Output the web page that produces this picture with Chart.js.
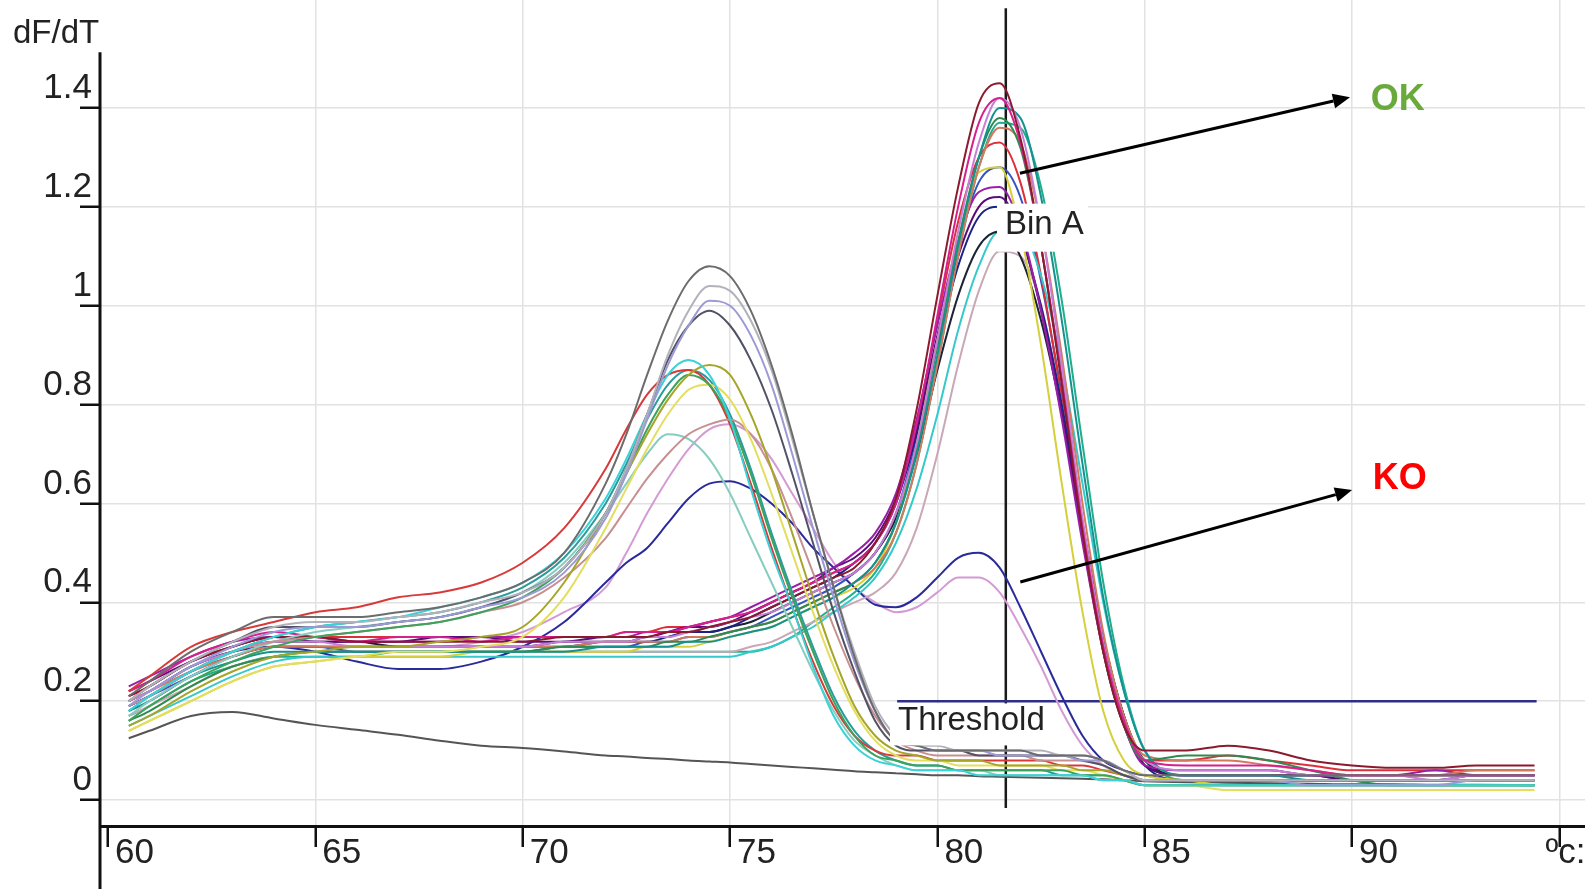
<!DOCTYPE html>
<html lang="en">
<head>
    <meta charset="UTF-8">
    <title>Melt curve - dF/dT</title>
    <script src="https://cdn.jsdelivr.net/npm/chart.js@4.4.1/dist/chart.umd.min.js"></script>
    <style>
        html, body { margin: 0; padding: 0; background: #ffffff; }
        #chart-box { position: relative; width: 1585px; height: 889px; }
    </style>
</head>
<body>
<div id="chart-box"><canvas id="melt-chart"></canvas></div>
<script>
// Temperature steps (ºC) shared by every melt curve
const temps = [60.5, 61, 62, 63, 64, 65, 66, 67, 68, 69, 70, 71, 72,
    72.5, 73, 73.5, 74, 74.5, 75, 75.5, 76, 76.5, 77, 77.5, 78, 78.5,
    79, 79.5, 80, 80.5, 81, 81.5, 82, 82.5, 83, 83.5, 84, 84.5, 85,
    86, 87, 88, 89, 90, 91, 92, 93, 94.4];

// Axis ticks
const xTicks = [60, 65, 70, 75, 80, 85, 90, 95];
const xTickLabels = ["60", "65", "70", "75", "80", "85", "90", ""];
const xUnit = "ºc:";
const yTicks = [0, 0.2, 0.4, 0.6, 0.8, 1, 1.2, 1.4];
const yTickLabels = ["0", "0.2", "0.4", "0.6", "0.8", "1", "1.2", "1.4"];

// Threshold line and bin A marker
const thresholdLevel = 0.2;
const thresholdRange = [79.03, 94.45];
const binTemp = 81.65;
const binRange = [-0.016, 1.602];

// Curves with the peak in bin A (OK)
const okDarkRed = [0.21, 0.23, 0.28, 0.31, 0.33, 0.33, 0.32, 0.32, 0.32, 0.32, 0.32, 0.33, 0.33,
    0.33, 0.33, 0.34, 0.34, 0.35, 0.36, 0.37, 0.39, 0.41, 0.43, 0.45, 0.47, 0.52,
    0.61, 0.79, 1.02, 1.24, 1.41, 1.45, 1.34, 1.12, 0.84, 0.54, 0.30, 0.15, 0.10,
    0.10, 0.11, 0.10, 0.08, 0.07, 0.065, 0.065, 0.07, 0.07];
const okMagenta = [0.22, 0.24, 0.29, 0.32, 0.34, 0.33, 0.32, 0.33, 0.33, 0.32, 0.33, 0.33, 0.33,
    0.34, 0.34, 0.34, 0.35, 0.36, 0.37, 0.38, 0.40, 0.42, 0.44, 0.46, 0.48, 0.52,
    0.60, 0.76, 0.98, 1.20, 1.37, 1.42, 1.33, 1.12, 0.85, 0.55, 0.31, 0.16, 0.08,
    0.07, 0.07, 0.07, 0.06, 0.05, 0.05, 0.05, 0.05, 0.05];
const okOrchid = [0.20, 0.22, 0.27, 0.30, 0.32, 0.32, 0.31, 0.31, 0.31, 0.31, 0.31, 0.32, 0.32,
    0.32, 0.33, 0.33, 0.34, 0.35, 0.36, 0.37, 0.38, 0.40, 0.42, 0.44, 0.46, 0.50,
    0.58, 0.72, 0.93, 1.15, 1.33, 1.42, 1.36, 1.16, 0.88, 0.57, 0.32, 0.16, 0.08,
    0.06, 0.06, 0.06, 0.05, 0.05, 0.05, 0.04, 0.05, 0.05];
const okTeal = [0.18, 0.20, 0.25, 0.28, 0.30, 0.30, 0.30, 0.30, 0.30, 0.30, 0.30, 0.30, 0.31,
    0.31, 0.31, 0.31, 0.32, 0.32, 0.33, 0.34, 0.35, 0.37, 0.39, 0.41, 0.44, 0.48,
    0.56, 0.70, 0.90, 1.12, 1.30, 1.40, 1.38, 1.22, 0.97, 0.68, 0.41, 0.22, 0.10,
    0.05, 0.05, 0.05, 0.04, 0.04, 0.04, 0.04, 0.04, 0.04];
const okGreen = [0.16, 0.18, 0.23, 0.27, 0.29, 0.30, 0.30, 0.30, 0.30, 0.30, 0.30, 0.31, 0.31,
    0.31, 0.31, 0.32, 0.32, 0.33, 0.34, 0.35, 0.36, 0.38, 0.40, 0.42, 0.44, 0.48,
    0.56, 0.71, 0.92, 1.13, 1.30, 1.38, 1.32, 1.12, 0.85, 0.55, 0.30, 0.15, 0.08,
    0.09, 0.09, 0.08, 0.06, 0.04, 0.03, 0.03, 0.03, 0.03];
const okSalmon = [0.20, 0.22, 0.26, 0.29, 0.31, 0.31, 0.31, 0.31, 0.31, 0.31, 0.31, 0.31, 0.32,
    0.32, 0.32, 0.32, 0.33, 0.33, 0.34, 0.35, 0.36, 0.38, 0.40, 0.42, 0.44, 0.47,
    0.54, 0.68, 0.88, 1.10, 1.28, 1.36, 1.33, 1.16, 0.90, 0.60, 0.34, 0.17, 0.09,
    0.08, 0.08, 0.07, 0.06, 0.05, 0.05, 0.05, 0.06, 0.06];
const okYellow = [0.14, 0.16, 0.20, 0.24, 0.27, 0.28, 0.29, 0.29, 0.29, 0.30, 0.30, 0.30, 0.30,
    0.30, 0.31, 0.31, 0.31, 0.32, 0.33, 0.34, 0.35, 0.37, 0.39, 0.41, 0.43, 0.47,
    0.56, 0.72, 0.93, 1.12, 1.27, 1.28, 1.15, 0.92, 0.64, 0.38, 0.18, 0.08, 0.05,
    0.04, 0.03, 0.03, 0.03, 0.03, 0.03, 0.03, 0.03, 0.03];
const okPurple = [0.23, 0.25, 0.29, 0.32, 0.33, 0.33, 0.32, 0.32, 0.32, 0.33, 0.33, 0.33, 0.33,
    0.33, 0.34, 0.34, 0.35, 0.36, 0.37, 0.39, 0.41, 0.43, 0.45, 0.47, 0.50, 0.54,
    0.62, 0.77, 0.96, 1.13, 1.23, 1.24, 1.16, 0.99, 0.77, 0.52, 0.30, 0.15, 0.07,
    0.06, 0.06, 0.06, 0.05, 0.05, 0.05, 0.06, 0.05, 0.05];
const okPlum = [0.22, 0.24, 0.28, 0.31, 0.33, 0.32, 0.32, 0.32, 0.33, 0.33, 0.32, 0.32, 0.33,
    0.33, 0.33, 0.34, 0.35, 0.35, 0.36, 0.38, 0.40, 0.42, 0.44, 0.47, 0.49, 0.53,
    0.61, 0.75, 0.94, 1.10, 1.20, 1.22, 1.15, 0.99, 0.78, 0.53, 0.31, 0.16, 0.07,
    0.05, 0.05, 0.05, 0.05, 0.04, 0.04, 0.04, 0.05, 0.05];
const okNavy = [0.19, 0.21, 0.26, 0.29, 0.31, 0.31, 0.31, 0.31, 0.31, 0.31, 0.31, 0.31, 0.32,
    0.32, 0.32, 0.33, 0.34, 0.34, 0.35, 0.37, 0.39, 0.41, 0.43, 0.45, 0.48, 0.52,
    0.60, 0.74, 0.92, 1.08, 1.18, 1.20, 1.14, 1.00, 0.80, 0.56, 0.33, 0.17, 0.07,
    0.04, 0.04, 0.04, 0.04, 0.04, 0.04, 0.04, 0.04, 0.04];
const okBlack = [0.20, 0.22, 0.27, 0.30, 0.32, 0.32, 0.32, 0.31, 0.31, 0.31, 0.31, 0.32, 0.32,
    0.32, 0.33, 0.33, 0.34, 0.34, 0.35, 0.36, 0.38, 0.40, 0.42, 0.44, 0.46, 0.50,
    0.57, 0.70, 0.87, 1.02, 1.12, 1.15, 1.10, 0.97, 0.78, 0.55, 0.33, 0.17, 0.08,
    0.05, 0.05, 0.05, 0.05, 0.05, 0.05, 0.05, 0.05, 0.05];
const okCyan = [0.15, 0.17, 0.21, 0.25, 0.28, 0.29, 0.29, 0.29, 0.29, 0.29, 0.29, 0.29, 0.29,
    0.29, 0.29, 0.29, 0.29, 0.29, 0.29, 0.30, 0.31, 0.33, 0.35, 0.38, 0.41, 0.45,
    0.52, 0.63, 0.78, 0.95, 1.08, 1.15, 1.15, 1.06, 0.88, 0.64, 0.40, 0.22, 0.10,
    0.05, 0.05, 0.05, 0.05, 0.05, 0.05, 0.05, 0.05, 0.05];
const okRosy = [0.17, 0.19, 0.23, 0.27, 0.29, 0.30, 0.30, 0.30, 0.30, 0.30, 0.30, 0.30, 0.30,
    0.30, 0.30, 0.30, 0.30, 0.30, 0.30, 0.31, 0.32, 0.34, 0.36, 0.38, 0.40, 0.42,
    0.46, 0.55, 0.70, 0.88, 1.03, 1.11, 1.10, 1.00, 0.80, 0.56, 0.33, 0.17, 0.08,
    0.06, 0.06, 0.06, 0.05, 0.05, 0.05, 0.05, 0.05, 0.05];
const okJade = [0.17, 0.19, 0.24, 0.27, 0.29, 0.29, 0.29, 0.30, 0.30, 0.30, 0.30, 0.30, 0.30,
    0.30, 0.30, 0.30, 0.30, 0.30, 0.30, 0.30, 0.31, 0.33, 0.36, 0.39, 0.42, 0.46,
    0.54, 0.68, 0.88, 1.10, 1.28, 1.37, 1.36, 1.24, 1.01, 0.72, 0.44, 0.23, 0.10,
    0.04, 0.04, 0.04, 0.04, 0.04, 0.04, 0.04, 0.04, 0.04];
const okRed = [0.21, 0.23, 0.28, 0.31, 0.33, 0.33, 0.33, 0.33, 0.33, 0.33, 0.33, 0.33, 0.33,
    0.34, 0.34, 0.35, 0.35, 0.36, 0.37, 0.38, 0.40, 0.42, 0.44, 0.46, 0.48, 0.52,
    0.60, 0.76, 0.97, 1.17, 1.30, 1.33, 1.25, 1.06, 0.81, 0.53, 0.30, 0.15, 0.08,
    0.08, 0.09, 0.08, 0.07, 0.06, 0.06, 0.06, 0.06, 0.06];
const okBlue = [0.19, 0.21, 0.25, 0.29, 0.31, 0.31, 0.30, 0.30, 0.30, 0.30, 0.30, 0.31, 0.31,
    0.31, 0.32, 0.32, 0.33, 0.33, 0.34, 0.35, 0.37, 0.39, 0.41, 0.43, 0.46, 0.50,
    0.58, 0.73, 0.93, 1.12, 1.25, 1.28, 1.22, 1.05, 0.82, 0.56, 0.32, 0.16, 0.07,
    0.05, 0.05, 0.05, 0.05, 0.04, 0.04, 0.04, 0.04, 0.04];

// Curves with the peak near 74.5 ºC (KO)
const koGray = [0.21, 0.24, 0.30, 0.34, 0.37, 0.37, 0.37, 0.38, 0.39, 0.41, 0.44, 0.50, 0.64,
    0.74, 0.86, 0.97, 1.05, 1.08, 1.06, 0.99, 0.88, 0.74, 0.58, 0.43, 0.29, 0.18,
    0.12, 0.11, 0.10, 0.10, 0.10, 0.10, 0.10, 0.09, 0.09, 0.09, 0.08, 0.06, 0.05,
    0.05, 0.05, 0.05, 0.05, 0.05, 0.05, 0.05, 0.05, 0.05];
const koSilver = [0.20, 0.23, 0.28, 0.32, 0.35, 0.36, 0.36, 0.37, 0.38, 0.40, 0.42, 0.47, 0.58,
    0.67, 0.78, 0.90, 0.99, 1.04, 1.03, 0.97, 0.87, 0.73, 0.58, 0.43, 0.30, 0.19,
    0.13, 0.11, 0.11, 0.10, 0.10, 0.10, 0.10, 0.10, 0.09, 0.09, 0.08, 0.06, 0.04,
    0.04, 0.04, 0.04, 0.04, 0.04, 0.04, 0.04, 0.04, 0.04];
const koLavender = [0.19, 0.22, 0.27, 0.31, 0.34, 0.35, 0.35, 0.36, 0.37, 0.39, 0.41, 0.46, 0.57,
    0.66, 0.77, 0.88, 0.96, 1.01, 1.00, 0.94, 0.84, 0.70, 0.55, 0.41, 0.28, 0.18,
    0.12, 0.11, 0.10, 0.10, 0.10, 0.09, 0.09, 0.09, 0.09, 0.08, 0.08, 0.06, 0.04,
    0.04, 0.04, 0.04, 0.03, 0.03, 0.03, 0.03, 0.04, 0.04];
const koSlate = [0.20, 0.23, 0.28, 0.32, 0.35, 0.35, 0.35, 0.36, 0.37, 0.39, 0.42, 0.47, 0.58,
    0.67, 0.78, 0.89, 0.96, 0.99, 0.96, 0.89, 0.79, 0.66, 0.52, 0.38, 0.26, 0.16,
    0.11, 0.10, 0.10, 0.10, 0.09, 0.09, 0.09, 0.09, 0.09, 0.08, 0.07, 0.05, 0.04,
    0.04, 0.04, 0.04, 0.04, 0.04, 0.04, 0.04, 0.04, 0.04];
const koCyan = [0.18, 0.21, 0.26, 0.30, 0.33, 0.35, 0.36, 0.37, 0.39, 0.41, 0.44, 0.50, 0.61,
    0.69, 0.78, 0.86, 0.89, 0.86, 0.77, 0.63, 0.50, 0.39, 0.27, 0.17, 0.11, 0.08,
    0.07, 0.06, 0.06, 0.06, 0.05, 0.05, 0.05, 0.05, 0.05, 0.05, 0.04, 0.04, 0.03,
    0.03, 0.03, 0.03, 0.03, 0.03, 0.03, 0.03, 0.03, 0.03];
const koOlive = [0.15, 0.17, 0.22, 0.26, 0.29, 0.30, 0.31, 0.31, 0.32, 0.33, 0.35, 0.44, 0.58,
    0.66, 0.74, 0.81, 0.86, 0.88, 0.86, 0.78, 0.67, 0.54, 0.41, 0.29, 0.19, 0.13,
    0.10, 0.09, 0.08, 0.08, 0.08, 0.07, 0.07, 0.07, 0.07, 0.06, 0.06, 0.05, 0.04,
    0.04, 0.04, 0.04, 0.04, 0.04, 0.04, 0.04, 0.04, 0.04];
const koGreen = [0.16, 0.19, 0.24, 0.28, 0.31, 0.33, 0.34, 0.35, 0.36, 0.38, 0.41, 0.47, 0.58,
    0.66, 0.75, 0.82, 0.86, 0.84, 0.77, 0.66, 0.53, 0.41, 0.30, 0.20, 0.13, 0.09,
    0.08, 0.07, 0.07, 0.06, 0.06, 0.06, 0.06, 0.06, 0.06, 0.05, 0.05, 0.04, 0.03,
    0.03, 0.03, 0.03, 0.03, 0.03, 0.03, 0.03, 0.03, 0.03];
const koYellow = [0.14, 0.16, 0.20, 0.24, 0.27, 0.28, 0.29, 0.30, 0.30, 0.31, 0.33, 0.41, 0.55,
    0.63, 0.71, 0.78, 0.83, 0.84, 0.81, 0.73, 0.62, 0.50, 0.38, 0.27, 0.18, 0.12,
    0.09, 0.08, 0.08, 0.07, 0.07, 0.07, 0.07, 0.07, 0.06, 0.06, 0.05, 0.04, 0.03,
    0.03, 0.02, 0.02, 0.02, 0.02, 0.02, 0.02, 0.02, 0.02];
const koRose = [0.19, 0.21, 0.26, 0.30, 0.32, 0.33, 0.34, 0.35, 0.36, 0.38, 0.40, 0.45, 0.53,
    0.59, 0.65, 0.70, 0.74, 0.76, 0.77, 0.74, 0.67, 0.57, 0.46, 0.35, 0.25, 0.17,
    0.12, 0.10, 0.09, 0.09, 0.09, 0.09, 0.09, 0.08, 0.08, 0.08, 0.07, 0.05, 0.04,
    0.04, 0.04, 0.04, 0.04, 0.04, 0.04, 0.04, 0.04, 0.04];
const koMint = [0.17, 0.20, 0.25, 0.29, 0.32, 0.34, 0.35, 0.36, 0.37, 0.39, 0.42, 0.48, 0.58,
    0.64, 0.70, 0.74, 0.73, 0.69, 0.62, 0.53, 0.44, 0.35, 0.26, 0.18, 0.12, 0.09,
    0.07, 0.06, 0.06, 0.06, 0.06, 0.05, 0.05, 0.05, 0.05, 0.05, 0.04, 0.04, 0.03,
    0.03, 0.03, 0.03, 0.03, 0.03, 0.03, 0.03, 0.03, 0.03];
const koRed = [0.22, 0.25, 0.31, 0.34, 0.36, 0.38, 0.39, 0.41, 0.42, 0.44, 0.48, 0.55, 0.67,
    0.75, 0.82, 0.86, 0.87, 0.84, 0.76, 0.64, 0.51, 0.39, 0.28, 0.19, 0.13, 0.10,
    0.09, 0.09, 0.08, 0.08, 0.08, 0.08, 0.08, 0.08, 0.07, 0.07, 0.06, 0.05, 0.04,
    0.04, 0.04, 0.04, 0.04, 0.04, 0.04, 0.04, 0.04, 0.04];
const koTeal = [0.18, 0.21, 0.26, 0.30, 0.33, 0.35, 0.36, 0.37, 0.38, 0.40, 0.43, 0.49, 0.60,
    0.68, 0.77, 0.84, 0.87, 0.85, 0.78, 0.67, 0.54, 0.42, 0.31, 0.21, 0.14, 0.10,
    0.08, 0.07, 0.07, 0.06, 0.06, 0.06, 0.06, 0.06, 0.05, 0.05, 0.05, 0.04, 0.03,
    0.03, 0.03, 0.03, 0.03, 0.03, 0.03, 0.03, 0.03, 0.03];

// Two curves with both peaks, and the low flat one
const dblNavy = [0.20, 0.22, 0.27, 0.30, 0.31, 0.30, 0.28, 0.265, 0.265, 0.28, 0.31, 0.36, 0.44,
    0.48, 0.51, 0.56, 0.61, 0.64, 0.645, 0.63, 0.60, 0.56, 0.51, 0.47, 0.43, 0.395,
    0.39, 0.41, 0.45, 0.49, 0.50, 0.47, 0.39, 0.30, 0.21, 0.13, 0.08, 0.06, 0.05,
    0.04, 0.04, 0.04, 0.04, 0.04, 0.04, 0.04, 0.04, 0.04];
const dblPink = [0.18, 0.20, 0.25, 0.29, 0.31, 0.31, 0.31, 0.31, 0.31, 0.32, 0.34, 0.38, 0.43,
    0.50, 0.58, 0.65, 0.71, 0.75, 0.76, 0.74, 0.69, 0.62, 0.55, 0.48, 0.43, 0.40,
    0.38, 0.39, 0.42, 0.45, 0.45, 0.42, 0.35, 0.27, 0.18, 0.11, 0.07, 0.05, 0.04,
    0.04, 0.04, 0.04, 0.04, 0.04, 0.04, 0.04, 0.04, 0.04];
const lowGray = [0.125, 0.14, 0.17, 0.178, 0.165, 0.152, 0.142, 0.132, 0.12, 0.11, 0.105, 0.098, 0.09,
    0.088, 0.085, 0.083, 0.08, 0.078, 0.076, 0.073, 0.07, 0.067, 0.064, 0.061, 0.058, 0.056,
    0.054, 0.052, 0.05, 0.05, 0.048, 0.047, 0.046, 0.045, 0.044, 0.043, 0.042, 0.04, 0.038,
    0.036, 0.035, 0.034, 0.033, 0.032, 0.032, 0.031, 0.031, 0.03];

// Drawing order: KO below, OK above, then the odd ones
const curveValues = [koGray, koSilver, koLavender, koSlate, koCyan, koOlive, koGreen, koYellow,
    koRose, koMint, koRed, koTeal,
    okDarkRed, okMagenta, okOrchid, okTeal, okGreen, okSalmon, okYellow, okPurple,
    okPlum, okNavy, okBlack, okCyan, okRosy, okJade, okRed, okBlue,
    dblNavy, dblPink, lowGray];
const curveColors = ["#6c6c6c", "#b2b2bc", "#9c9ad6", "#525266", "#3ad2d8", "#a5a52a", "#3ca25c", "#e3de5e",
    "#c79090", "#86cdbf", "#d83a3a", "#2b9c9c",
    "#8b1a2e", "#d6208e", "#c77fd6", "#15928f", "#2e8b4f", "#d27a5e", "#d6cf3c", "#9a1fa8",
    "#5c0c78", "#1f2285", "#1c2434", "#35c9cc", "#c9a7b6", "#1fae8c", "#dd2f3a", "#3354c2",
    "#2a2a9c", "#d49ad4", "#555555"];

// Annotation anchors, in chart units (ºC, dF/dT)
const yAxisTop = 1.513;
const binLabelAt = [81.63, 1.164];
const thresholdLabelAt = [79.05, 0.161];
const okArrow = [81.99, 1.268, 89.95, 1.422];
const koArrow = [82.0, 0.441, 90.0, 0.627];
const okTextAt = [91.1, 1.416];
const koTextAt = [91.15, 0.650];

const FONT = "\"Liberation Sans\", Arial, sans-serif";

const datasets = curveValues.map((vals, i) => ({
    data: temps.map((t, k) => ({ x: t, y: vals[k] })),
    borderColor: curveColors[i],
    borderWidth: 2,
    pointRadius: 0,
    fill: false,
    cubicInterpolationMode: "monotone"
}));

datasets.push({
    data: [{ x: thresholdRange[0], y: thresholdLevel }, { x: thresholdRange[1], y: thresholdLevel }],
    borderColor: "#2e2e86",
    borderWidth: 2.5,
    pointRadius: 0,
    tension: 0
});
datasets.push({
    data: [{ x: binTemp, y: binRange[0] }, { x: binTemp, y: binRange[1] }],
    borderColor: "#1a1a1a",
    borderWidth: 2.5,
    pointRadius: 0,
    tension: 0
});

function drawArrow(ctx, x1, y1, x2, y2) {
    const a = Math.atan2(y2 - y1, x2 - x1);
    const len = 17, half = 7.5;
    const bx = x2 - len * Math.cos(a);
    const by = y2 - len * Math.sin(a);
    ctx.beginPath();
    ctx.moveTo(x1, y1);
    ctx.lineTo(bx, by);
    ctx.stroke();
    ctx.beginPath();
    ctx.moveTo(x2, y2);
    ctx.lineTo(bx + half * Math.sin(a), by - half * Math.cos(a));
    ctx.lineTo(bx - half * Math.sin(a), by + half * Math.cos(a));
    ctx.closePath();
    ctx.fill();
}

function boxedLabel(ctx, text, px, py, up, down) {
    const w = ctx.measureText(text).width;
    ctx.fillStyle = "#ffffff";
    ctx.fillRect(px - 8, py - up, w + 12, up + down);
    ctx.fillStyle = "#222222";
    ctx.fillText(text, px, py);
}

// Labels, arrows and the long left axis line
const meltNotes = {
    id: "meltNotes",
    afterDraw(chart) {
        const { ctx, chartArea, scales: { x, y } } = chart;
        ctx.save();

        ctx.strokeStyle = "#111111";
        ctx.lineWidth = 3;
        ctx.beginPath();
        ctx.moveTo(chartArea.left, y.getPixelForValue(yAxisTop));
        ctx.lineTo(chartArea.left, chart.height);
        ctx.stroke();

        ctx.fillStyle = "#222222";
        ctx.font = "33px " + FONT;
        ctx.textAlign = "left";
        ctx.textBaseline = "alphabetic";
        ctx.fillText("dF/dT", 13, 43);

        ctx.font = "35px " + FONT;
        ctx.textBaseline = "middle";
        ctx.fillText(xUnit, x.getPixelForValue(95) - 14, x.top + 27);

        ctx.font = "33px " + FONT;
        boxedLabel(ctx, "Bin A", x.getPixelForValue(binLabelAt[0]), y.getPixelForValue(binLabelAt[1]), 21, 27);
        boxedLabel(ctx, "Threshold", x.getPixelForValue(thresholdLabelAt[0]), y.getPixelForValue(thresholdLabelAt[1]), 17, 25);

        ctx.strokeStyle = "#000000";
        ctx.fillStyle = "#000000";
        ctx.lineWidth = 3;
        [okArrow, koArrow].forEach(a => {
            drawArrow(ctx, x.getPixelForValue(a[0]), y.getPixelForValue(a[1]),
                x.getPixelForValue(a[2]), y.getPixelForValue(a[3]));
        });

        ctx.font = "bold 36px " + FONT;
        ctx.textAlign = "center";
        ctx.fillStyle = "#6aaa3c";
        ctx.fillText("OK", x.getPixelForValue(okTextAt[0]), y.getPixelForValue(okTextAt[1]));
        ctx.fillStyle = "#ff0000";
        ctx.fillText("KO", x.getPixelForValue(koTextAt[0]), y.getPixelForValue(koTextAt[1]));

        ctx.restore();
    }
};

new Chart(document.getElementById("melt-chart"), {
    type: "line",
    data: { datasets: datasets },
    options: {
        responsive: true,
        maintainAspectRatio: false,
        animation: false,
        events: [],
        layout: { padding: 0 },
        plugins: { legend: { display: false }, tooltip: { enabled: false } },
        scales: {
            x: {
                type: "linear",
                min: 59.807,
                max: 95.617,
                afterBuildTicks: scale => { scale.ticks = xTicks.map(v => ({ value: v })); },
                afterFit: scale => {
                    scale.height = 63;
                    scale.paddingLeft = 0;
                    scale.paddingRight = 0;
                },
                grid: {
                    color: c => (c.tick && c.tick.value === 60 ? "rgba(0,0,0,0)" : "#e2e2e2"),
                    lineWidth: 1.5,
                    drawTicks: true,
                    tickLength: 21,
                    tickColor: "#111111",
                    tickWidth: 2.5
                },
                border: { display: true, color: "#111111", width: 3 },
                ticks: {
                    autoSkip: false,
                    maxRotation: 0,
                    align: "start",
                    labelOffset: 7,
                    padding: -15,
                    color: "#222222",
                    font: { family: FONT, size: 35 },
                    callback: (v, i) => xTickLabels[i]
                }
            },
            y: {
                type: "linear",
                min: -0.0526,
                max: 1.6185,
                afterBuildTicks: scale => { scale.ticks = yTicks.map(v => ({ value: v })); },
                afterFit: scale => {
                    scale.width = 100;
                    scale.paddingTop = 0;
                    scale.paddingBottom = 0;
                },
                grid: {
                    color: "#e2e2e2",
                    lineWidth: 1.5,
                    drawTicks: true,
                    tickLength: 20,
                    tickColor: "#111111",
                    tickWidth: 2.5
                },
                border: { display: false },
                ticks: {
                    padding: -12,
                    labelOffset: -19.5,
                    color: "#222222",
                    font: { family: FONT, size: 35 },
                    callback: (v, i) => yTickLabels[i]
                }
            }
        }
    },
    plugins: [meltNotes]
});
</script>
</body>
</html>
